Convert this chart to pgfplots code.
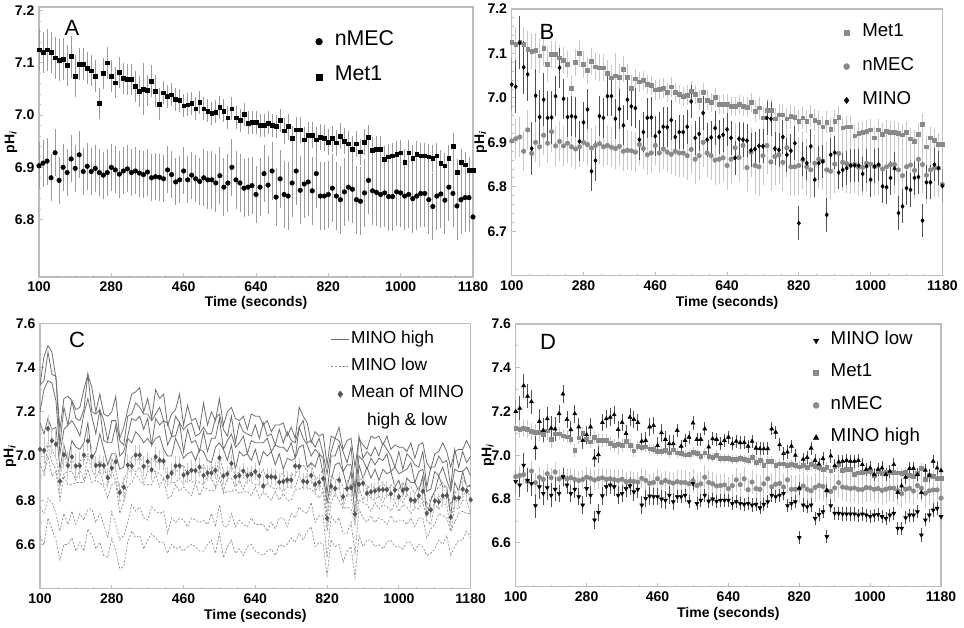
\documentclass[border=0pt]{standalone}
\usepackage{fontspec}
\setmainfont{Liberation Sans}
\usepackage{pgfplots}
\usepackage{pgfplotstable}
\pgfplotsset{compat=1.18}
\definecolor{frame}{HTML}{BDBDBD}
\definecolor{mk}{HTML}{8A8A8A}
\definecolor{ebl}{HTML}{C8C8C8}
\definecolor{ebA}{HTML}{9A9A9A}
\definecolor{ebd}{HTML}{505050}
\definecolor{cline}{HTML}{6E6E6E}
\definecolor{dline}{HTML}{8C8C8C}
\definecolor{meanc}{HTML}{555555}
\pgfplotsset{
  panel/.style={
    scale only axis, xmin=100, xmax=1180,
    xtick={100,280,460,640,820,1000,1180},
    minor x tick num=3, minor y tick num=4,
    axis line style={draw=frame, line width=0.9pt},
    tick style={draw=frame, line width=0.6pt},
    major tick length=3pt, minor tick length=1.5pt,
    tick align=inside, tick pos=left,
    /pgf/number format/assume math mode=true,
    ticklabel style={font=\bfseries\fontsize{10.5}{12}\selectfont, text=black},
    xticklabel style={/pgf/number format/1000 sep={}},
    yticklabel style={/pgf/number format/.cd, fixed, fixed zerofill, precision=1},
    xlabel={Time (seconds)}, ylabel={pH\textsubscript{\itshape i}},
    label style={font=\bfseries\fontsize{10.5}{12}\selectfont},
    xlabel style={anchor=center}, ylabel style={anchor=center},
    legend style={draw=none, fill=none, anchor=north west, inner sep=0pt,
      nodes={inner sep=1pt, text height=0.75em, text depth=0.2em}},
    legend cell align=left,
  },
  shortline/.style={legend image code/.code={\draw[##1] (0pt,0pt) -- (13.5pt,0pt);}},
  midmark/.style={legend image code/.code={\draw[##1] plot coordinates {(6.75pt,0pt)};}},
}
\pgfplotstableread{
t met me nm ne mi mie hi lo hle
100 7.125 0.040 6.903 0.045 7.030 0.060 7.200 6.880 0.055
110 7.120 0.040 6.908 0.045 7.025 0.060 7.215 6.864 0.055
120 7.125 0.040 6.912 0.045 7.124 0.060 7.318 6.955 0.055
130 7.120 0.040 6.880 0.045 7.069 0.060 7.270 6.886 0.055
140 7.110 0.040 6.928 0.045 7.053 0.060 7.245 6.871 0.055
150 7.105 0.040 6.875 0.045 6.886 0.060 7.035 6.770 0.055
160 7.107 0.040 6.900 0.045 7.005 0.060 7.155 6.856 0.055
170 7.095 0.040 6.890 0.045 6.957 0.060 7.114 6.826 0.055
180 7.112 0.040 6.916 0.045 6.996 0.060 7.167 6.852 0.055
190 7.075 0.040 6.898 0.045 6.955 0.060 7.124 6.818 0.055
200 7.098 0.030 6.924 0.045 6.956 0.060 7.120 6.845 0.055
210 7.098 0.030 6.892 0.045 7.004 0.045 7.190 6.826 0.040
220 7.090 0.030 6.902 0.045 7.068 0.045 7.280 6.902 0.040
230 7.085 0.030 6.892 0.045 6.998 0.045 7.164 6.864 0.040
240 7.075 0.030 6.898 0.045 6.957 0.045 7.117 6.826 0.040
250 7.022 0.030 6.890 0.045 6.959 0.045 7.190 6.845 0.040
260 7.080 0.030 6.885 0.045 6.957 0.045 7.130 6.811 0.040
270 7.100 0.030 6.890 0.045 6.902 0.045 7.068 6.773 0.040
280 7.075 0.030 6.900 0.045 6.945 0.045 7.094 6.848 0.040
290 7.062 0.030 6.895 0.045 6.974 0.045 7.130 6.818 0.040
300 7.082 0.030 6.887 0.045 6.835 0.045 6.988 6.705 0.040
310 7.070 0.030 6.893 0.045 6.859 0.045 7.003 6.739 0.040
320 7.068 0.030 6.897 0.045 6.959 0.045 7.150 6.815 0.040
330 7.068 0.030 6.890 0.045 6.955 0.045 7.167 6.856 0.040
340 7.055 0.030 6.893 0.045 7.004 0.045 7.174 6.864 0.040
350 7.045 0.030 6.889 0.045 7.004 0.045 7.185 6.856 0.040
360 7.050 0.050 6.886 0.045 6.953 0.045 7.118 6.818 0.040
370 7.047 0.030 6.891 0.045 6.975 0.045 7.150 6.826 0.040
380 7.065 0.030 6.880 0.045 6.938 0.045 7.100 6.848 0.040
390 7.046 0.030 6.882 0.045 6.996 0.045 7.174 6.861 0.040
400 7.021 0.030 6.881 0.045 6.981 0.045 7.164 6.833 0.040
410 7.043 0.022 6.878 0.045 6.977 0.045 7.150 6.845 0.040
420 7.036 0.022 6.895 0.045 6.906 0.045 7.064 6.773 0.040
430 7.039 0.022 6.886 0.045 6.923 0.045 7.068 6.803 0.040
440 7.030 0.022 6.872 0.045 6.955 0.045 7.130 6.814 0.040
450 7.028 0.022 6.876 0.045 6.956 0.045 7.136 6.811 0.040
460 7.018 0.022 6.893 0.045 6.914 0.045 7.045 6.811 0.040
470 7.020 0.022 6.876 0.045 6.923 0.045 7.103 6.800 0.040
480 7.022 0.022 6.885 0.045 6.935 0.045 7.073 6.795 0.040
490 7.012 0.022 6.878 0.045 6.934 0.045 7.053 6.818 0.040
500 7.025 0.022 6.873 0.045 6.950 0.045 7.053 6.788 0.040
510 7.012 0.022 6.880 0.055 6.912 0.038 7.114 6.811 0.030
520 7.008 0.022 6.876 0.055 6.923 0.038 7.042 6.811 0.030
530 7.003 0.022 6.876 0.055 6.923 0.038 7.068 6.818 0.030
540 7.006 0.022 6.870 0.055 6.935 0.038 7.083 6.788 0.030
550 7.015 0.022 6.884 0.055 6.992 0.038 7.148 6.871 0.030
560 7.008 0.022 6.862 0.055 6.910 0.038 7.073 6.780 0.030
570 6.995 0.022 6.870 0.055 6.919 0.038 7.073 6.795 0.030
580 7.012 0.022 6.900 0.055 6.966 0.038 7.121 6.818 0.030
590 6.995 0.022 6.876 0.055 6.906 0.038 7.038 6.791 0.030
600 6.990 0.022 6.870 0.055 6.911 0.038 7.076 6.800 0.030
610 7.001 0.022 6.860 0.055 6.932 0.038 7.073 6.790 0.030
620 6.985 0.022 6.862 0.055 6.912 0.038 7.053 6.795 0.030
630 6.986 0.022 6.865 0.055 6.917 0.038 7.068 6.795 0.030
640 6.986 0.022 6.848 0.055 6.929 0.038 7.083 6.795 0.030
650 6.981 0.022 6.862 0.055 6.910 0.038 7.053 6.780 0.030
660 6.981 0.022 6.888 0.055 6.865 0.038 7.064 6.788 0.030
670 6.985 0.022 6.866 0.055 6.908 0.038 7.058 6.780 0.030
680 6.981 0.022 6.893 0.055 6.906 0.038 7.058 6.776 0.030
690 6.979 0.022 6.843 0.055 6.904 0.038 7.042 6.780 0.030
700 6.990 0.022 6.878 0.055 6.882 0.038 7.064 6.773 0.030
710 6.970 0.025 6.848 0.065 6.885 0.038 7.033 6.776 0.030
720 6.978 0.025 6.845 0.065 6.892 0.038 7.030 6.760 0.030
730 6.955 0.025 6.870 0.065 6.891 0.038 7.030 6.776 0.030
740 6.972 0.025 6.893 0.065 6.955 0.038 7.030 6.788 0.030
750 6.972 0.025 6.856 0.065 6.953 0.038 7.121 6.818 0.030
760 6.953 0.025 6.868 0.065 6.886 0.038 7.106 6.811 0.030
770 6.962 0.025 6.872 0.065 6.883 0.038 7.048 6.818 0.030
780 6.962 0.025 6.855 0.065 6.912 0.038 7.008 6.826 0.030
790 6.953 0.025 6.888 0.065 6.872 0.038 7.015 6.770 0.030
800 6.958 0.025 6.845 0.065 6.881 0.038 7.042 6.780 0.030
810 6.956 0.025 6.845 0.065 6.898 0.038 7.000 6.788 0.030
820 6.948 0.025 6.848 0.065 6.718 0.038 6.850 6.624 0.030
830 6.955 0.025 6.860 0.065 6.863 0.038 6.982 6.773 0.030
840 6.947 0.025 6.845 0.065 6.853 0.038 6.990 6.765 0.030
850 6.960 0.025 6.838 0.065 6.891 0.038 7.033 6.773 0.030
860 6.950 0.025 6.853 0.065 6.816 0.038 6.977 6.712 0.030
870 6.945 0.025 6.862 0.065 6.853 0.038 6.960 6.730 0.030
880 6.935 0.025 6.858 0.065 6.857 0.038 6.985 6.742 0.030
890 6.945 0.025 6.838 0.065 6.737 0.038 6.840 6.629 0.030
900 6.930 0.025 6.835 0.065 6.872 0.038 6.997 6.770 0.030
910 6.948 0.025 6.851 0.065 6.877 0.038 6.952 6.735 0.030
920 6.957 0.025 6.875 0.065 6.832 0.038 6.970 6.735 0.030
930 6.933 0.025 6.855 0.065 6.838 0.038 6.973 6.732 0.030
940 6.935 0.025 6.852 0.065 6.842 0.038 6.977 6.732 0.030
950 6.935 0.025 6.848 0.065 6.848 0.038 6.973 6.732 0.030
960 6.915 0.025 6.851 0.065 6.848 0.038 6.973 6.732 0.030
970 6.920 0.025 6.844 0.065 6.848 0.038 6.977 6.727 0.030
980 6.922 0.025 6.844 0.065 6.829 0.038 6.958 6.732 0.030
990 6.925 0.025 6.853 0.065 6.846 0.038 6.936 6.727 0.030
1000 6.928 0.025 6.851 0.065 6.816 0.038 6.942 6.720 0.030
1010 6.910 0.025 6.845 0.065 6.846 0.038 6.912 6.727 0.030
1020 6.928 0.025 6.848 0.065 6.850 0.038 6.936 6.730 0.030
1030 6.918 0.025 6.840 0.065 6.801 0.038 6.942 6.720 0.030
1040 6.925 0.025 6.845 0.065 6.799 0.038 6.912 6.712 0.030
1050 6.922 0.025 6.850 0.065 6.820 0.038 6.927 6.727 0.030
1060 6.922 0.025 6.850 0.065 6.841 0.038 6.958 6.735 0.030
1070 6.920 0.025 6.838 0.065 6.741 0.038 6.830 6.667 0.030
1080 6.917 0.025 6.825 0.065 6.756 0.038 6.860 6.667 0.030
1090 6.922 0.025 6.845 0.065 6.797 0.038 6.900 6.715 0.030
1100 6.908 0.025 6.849 0.065 6.793 0.038 6.940 6.727 0.030
1110 6.903 0.025 6.837 0.065 6.820 0.038 6.940 6.727 0.030
1120 6.918 0.025 6.862 0.065 6.822 0.038 6.912 6.742 0.030
1130 6.940 0.025 6.850 0.065 6.724 0.038 6.830 6.636 0.030
1140 6.890 0.025 6.826 0.065 6.810 0.038 6.932 6.705 0.030
1150 6.910 0.025 6.838 0.065 6.810 0.038 6.909 6.727 0.030
1160 6.905 0.025 6.842 0.065 6.850 0.038 6.973 6.750 0.030
1170 6.895 0.025 6.842 0.065 6.842 0.038 6.942 6.758 0.030
1180 6.895 0.025 6.805 0.065 6.802 0.038 6.930 6.720 0.030
}\main
\pgfplotstableread{
t s1 s2 s3 s4 d1 d2 d3 d4 d5
100 7.32 7.32 7.20 7.15 7.01 6.97 6.91 6.77 6.64
110 7.45 7.34 7.30 7.10 7.01 6.92 6.91 6.74 6.60
120 7.50 7.47 7.34 7.17 7.06 7.05 7.00 6.81 6.72
130 7.47 7.37 7.33 7.12 7.03 6.97 6.91 6.79 6.67
140 7.35 7.36 7.25 7.13 6.99 6.94 6.93 6.74 6.62
150 7.12 7.05 7.01 6.94 6.90 6.86 6.80 6.66 6.53
160 7.26 7.22 7.12 7.05 7.01 6.92 6.91 6.74 6.60
170 7.27 7.14 7.14 6.97 6.94 6.93 6.87 6.69 6.60
180 7.25 7.25 7.16 7.07 6.99 6.93 6.87 6.75 6.63
190 7.21 7.17 7.13 7.04 6.94 6.89 6.88 6.69 6.57
200 7.22 7.16 7.09 7.03 6.98 6.94 6.88 6.74 6.61
210 7.30 7.21 7.19 7.06 6.98 6.89 6.88 6.71 6.57
220 7.37 7.37 7.26 7.15 7.01 7.00 6.94 6.76 6.67
230 7.31 7.20 7.18 6.99 7.00 6.94 6.88 6.76 6.64
240 7.20 7.19 7.10 7.02 6.95 6.90 6.89 6.70 6.58
250 7.28 7.21 7.21 7.10 6.98 6.94 6.88 6.74 6.61
260 7.19 7.16 7.07 7.03 6.96 6.87 6.86 6.69 6.55
270 7.18 7.07 7.06 6.96 6.88 6.87 6.81 6.63 6.54
280 7.20 7.16 7.06 7.01 6.99 6.93 6.87 6.75 6.63
290 7.27 7.16 7.14 7.01 6.94 6.89 6.88 6.69 6.57
300 7.08 7.07 7.00 6.94 6.84 6.80 6.74 6.62 6.49
310 7.13 7.05 7.02 6.95 6.89 6.80 6.79 6.64 6.50
320 7.21 7.18 7.09 7.08 6.93 6.92 6.86 6.70 6.61
330 7.28 7.19 7.17 7.06 7.00 6.94 6.88 6.78 6.66
340 7.29 7.24 7.16 7.11 6.98 6.93 6.92 6.75 6.63
350 7.31 7.22 7.18 7.09 6.99 6.95 6.89 6.77 6.64
360 7.20 7.19 7.12 7.06 6.97 6.88 6.87 6.72 6.58
370 7.26 7.19 7.17 7.08 6.94 6.93 6.87 6.71 6.62
380 7.17 7.16 7.05 7.05 6.99 6.93 6.87 6.77 6.65
390 7.30 7.19 7.17 7.08 6.98 6.93 6.92 6.75 6.63
400 7.26 7.22 7.14 7.09 6.96 6.92 6.86 6.74 6.61
410 7.28 7.16 7.16 7.03 6.99 6.90 6.90 6.75 6.61
420 7.14 7.15 7.05 7.00 6.88 6.87 6.81 6.65 6.56
430 7.19 7.09 7.09 7.00 6.94 6.88 6.82 6.72 6.60
440 7.21 7.18 7.09 7.08 6.93 6.88 6.87 6.70 6.58
450 7.28 7.15 7.15 7.04 6.94 6.90 6.84 6.72 6.59
460 7.14 7.12 7.02 6.99 6.96 6.87 6.86 6.71 6.57
470 7.23 7.14 7.12 7.01 6.91 6.90 6.84 6.68 6.59
480 7.16 7.15 7.06 7.02 6.94 6.88 6.82 6.72 6.60
490 7.17 7.09 7.07 6.98 6.94 6.89 6.88 6.71 6.59
500 7.12 7.10 7.02 7.03 6.92 6.88 6.82 6.70 6.57
510 7.24 7.13 7.11 7.02 6.96 6.87 6.86 6.71 6.57
520 7.14 7.10 7.02 6.98 6.92 6.91 6.85 6.69 6.60
530 7.20 7.10 7.08 6.97 6.96 6.90 6.84 6.74 6.62
540 7.16 7.17 7.08 7.04 6.91 6.86 6.85 6.68 6.56
550 7.26 7.19 7.17 7.06 7.00 6.96 6.90 6.78 6.65
560 7.14 7.12 7.03 7.03 6.93 6.84 6.83 6.68 6.54
570 7.20 7.09 7.07 6.98 6.91 6.90 6.84 6.68 6.59
580 7.22 7.18 7.10 7.05 6.96 6.90 6.84 6.74 6.62
590 7.17 7.06 7.04 6.94 6.91 6.86 6.85 6.68 6.56
600 7.16 7.15 7.06 7.02 6.93 6.89 6.83 6.71 6.58
610 7.18 7.11 7.09 7.00 6.94 6.85 6.84 6.69 6.55
620 7.12 7.10 7.01 7.01 6.91 6.90 6.84 6.68 6.59
630 7.19 7.09 7.07 6.98 6.94 6.88 6.82 6.72 6.60
640 7.18 7.14 7.06 7.03 6.92 6.87 6.86 6.69 6.57
650 7.18 7.08 7.06 6.96 6.91 6.87 6.81 6.69 6.56
660 7.14 7.15 7.06 7.02 6.94 6.85 6.84 6.69 6.55
670 7.16 7.09 7.08 7.00 6.89 6.88 6.82 6.66 6.57
680 7.11 7.10 7.02 7.02 6.92 6.86 6.80 6.70 6.58
690 7.14 7.05 7.05 6.96 6.90 6.85 6.84 6.67 6.55
700 7.14 7.12 7.04 7.01 6.90 6.86 6.80 6.72 6.60
710 7.15 7.06 7.04 6.94 6.93 6.84 6.83 6.72 6.59
720 7.09 7.11 7.02 6.99 6.87 6.86 6.80 6.68 6.60
730 7.13 7.07 7.06 6.98 6.92 6.86 6.80 6.74 6.63
740 7.08 7.06 6.99 6.99 6.91 6.86 6.85 6.72 6.61
750 7.22 7.13 7.13 7.04 6.95 6.91 6.85 6.77 6.65
760 7.18 7.16 7.08 7.05 6.96 6.87 6.86 6.75 6.62
770 7.15 7.06 7.05 6.95 6.93 6.92 6.86 6.74 6.66
780 7.06 7.07 7.00 6.97 6.97 6.91 6.85 6.79 6.68
790 7.11 7.04 7.03 6.95 6.89 6.84 6.83 6.70 6.59
800 7.09 7.08 7.01 7.01 6.91 6.87 6.81 6.73 6.61
810 7.10 7.01 6.99 6.92 6.94 6.85 6.84 6.73 6.60
820 6.96 6.92 6.83 6.79 6.73 6.72 6.66 6.54 6.46
830 7.09 7.02 7.00 6.89 6.91 6.85 6.79 6.73 6.62
840 7.08 7.08 7.00 6.96 6.89 6.84 6.83 6.70 6.59
850 7.13 7.07 7.05 6.97 6.90 6.86 6.80 6.72 6.60
860 7.03 7.02 6.93 6.93 6.86 6.77 6.76 6.65 6.52
870 7.07 6.97 6.96 6.86 6.84 6.83 6.77 6.65 6.57
880 7.08 7.04 6.96 6.93 6.88 6.82 6.76 6.70 6.59
890 6.95 6.84 6.82 6.73 6.75 6.70 6.69 6.56 6.45
900 7.08 7.09 7.00 6.96 6.90 6.86 6.80 6.76 6.64
910 7.05 6.99 6.98 6.90 6.89 6.80 6.79 6.72 6.59
920 7.03 7.02 6.94 6.95 6.85 6.84 6.78 6.70 6.62
930 7.09 7.00 6.99 6.90 6.87 6.81 6.75 6.73 6.62
940 7.08 7.04 6.96 6.94 6.85 6.80 6.79 6.70 6.59
950 7.09 7.00 6.99 6.89 6.86 6.82 6.76 6.72 6.60
960 7.05 7.06 6.98 6.94 6.88 6.79 6.78 6.71 6.58
970 7.09 7.03 7.01 6.92 6.84 6.83 6.77 6.69 6.61
980 7.03 7.00 6.93 6.93 6.87 6.81 6.75 6.73 6.62
990 7.05 6.95 6.95 6.86 6.85 6.80 6.79 6.70 6.59
1000 7.04 7.02 6.92 6.89 6.85 6.81 6.75 6.71 6.59
1010 7.04 6.94 6.93 6.82 6.88 6.79 6.78 6.71 6.58
1020 7.02 7.01 6.94 6.90 6.84 6.83 6.77 6.69 6.61
1030 7.06 6.99 6.97 6.88 6.86 6.80 6.74 6.72 6.61
1040 6.99 6.96 6.88 6.88 6.83 6.78 6.77 6.68 6.57
1050 7.05 6.95 6.93 6.84 6.86 6.82 6.76 6.72 6.60
1060 7.06 7.02 6.94 6.91 6.89 6.80 6.79 6.72 6.59
1070 6.97 6.86 6.84 6.73 6.78 6.77 6.71 6.63 6.55
1080 6.94 6.95 6.85 6.80 6.81 6.75 6.69 6.67 6.56
1090 7.01 6.95 6.93 6.84 6.84 6.79 6.78 6.69 6.58
1100 7.02 7.00 6.91 6.91 6.86 6.82 6.76 6.74 6.62
1110 7.06 6.97 6.95 6.86 6.88 6.79 6.78 6.73 6.60
1120 7.02 6.98 6.89 6.86 6.85 6.84 6.78 6.72 6.64
1130 6.95 6.86 6.84 6.73 6.78 6.72 6.66 6.66 6.55
1140 7.02 7.03 6.94 6.88 6.83 6.78 6.77 6.70 6.59
1150 7.03 6.95 6.93 6.84 6.86 6.82 6.76 6.74 6.62
1160 7.03 7.02 6.93 6.93 6.90 6.81 6.80 6.75 6.62
1170 7.07 6.97 6.95 6.86 6.87 6.86 6.80 6.74 6.66
1180 7.03 7.00 6.91 6.87 6.86 6.80 6.74 6.74 6.63
}\lines
\begin{document}
\begin{tikzpicture}
\useasboundingbox (0pt,0pt) rectangle (723pt,-471pt);
% ---------------- A
\begin{axis}[panel, at={(29.25pt,-5.25pt)}, anchor=north west,
  width=325.5pt, height=202.5pt, ymin=6.69, ymax=7.207,
  ytick={6.8,6.9,7.0,7.1,7.2},
  ylabel style={at={(rel axis cs:-0.0645,0.5)}},
  xlabel style={at={(rel axis cs:0.5,-0.096)}},
  legend style={at={(0.637,0.901)}, font=\fontsize{16}{19}\selectfont, row sep=15.1pt, column sep=8.3pt}]
\addlegendimage{only marks, mark=*, black, mark size=2.5pt}
\addlegendentry{nMEC}
\addlegendimage{only marks, mark=square*, black, mark size=2.2pt}
\addlegendentry{Met1}
\addplot[forget plot, only marks, mark=*, mark size=1.7pt, black,
  error bars/.cd, y dir=both, y explicit, error mark=none,
  error bar style={color=ebA, line width=0.6pt}] table[x=t, y=nm, y error=ne]{\main};
\addplot[forget plot, only marks, mark=square*, mark size=1.4pt, black,
  error bars/.cd, y dir=both, y explicit, error mark=none,
  error bar style={color=ebA, line width=0.6pt}] table[x=t, y=met, y error=me]{\main};
\node[font=\fontsize{16.5}{18}\selectfont] at (rel axis cs:0.076,0.922) {A};
\end{axis}
% ---------------- B
\begin{axis}[panel, at={(383.8pt,-6.75pt)}, anchor=north west,
  width=323pt, height=200pt, ymin=6.6, ymax=7.2,
  ytick={6.7,6.8,6.9,7.0,7.1,7.2},
  ylabel style={at={(rel axis cs:-0.0722,0.5)}},
  xlabel style={at={(rel axis cs:0.5,-0.102)}},
  legend style={at={(0.770,0.941)}, font=\fontsize{14}{17}\selectfont, row sep=13.9pt, column sep=8.5pt}]
\addlegendimage{only marks, mark=square*, mk, mark size=1.9pt}
\addlegendentry{Met1}
\addlegendimage{only marks, mark=*, mk, mark size=2.25pt}
\addlegendentry{nMEC}
\addlegendimage{only marks, mark=diamond*, black, mark size=2.3pt}
\addlegendentry{MINO}
\addplot[forget plot, only marks, mark=square*, mark size=1.4pt, mk,
  error bars/.cd, y dir=both, y explicit, error mark=none,
  error bar style={color=ebl, line width=0.6pt}] table[x=t, y=met, y error=me]{\main};
\addplot[forget plot, only marks, mark=*, mark size=1.7pt, mk,
  error bars/.cd, y dir=both, y explicit, error mark=none,
  error bar style={color=ebl, line width=0.6pt}] table[x=t, y=nm, y error=ne]{\main};
\addplot[forget plot, only marks, mark=diamond*, mark size=1.6pt, black,
  error bars/.cd, y dir=both, y explicit, error mark=none,
  error bar style={color=ebd, line width=0.6pt}] table[x=t, y=mi, y error=mie]{\main};
\node[font=\fontsize{16.5}{18}\selectfont] at (rel axis cs:0.082,0.914) {B};
\end{axis}
% ---------------- C
\begin{axis}[panel, at={(30pt,-242.5pt)}, anchor=north west,
  width=323pt, height=199pt, ymin=6.4, ymax=7.6,
  ytick={6.6,6.8,7.0,7.2,7.4,7.6}, minor y tick num=1,
  ylabel style={at={(rel axis cs:-0.0696,0.5)}},
  xlabel style={at={(rel axis cs:0.5,-0.102)}},
  legend style={at={(0.6745,0.969)}, font=\fontsize{13}{16}\selectfont, row sep=9pt, column sep=0pt}]
\addlegendimage{shortline, cline, line width=0.8pt}
\addlegendentry{MINO high}
\addlegendimage{shortline, dline, line width=0.8pt, dash pattern=on 1.6pt off 1.2pt}
\addlegendentry{MINO low}
\addlegendimage{midmark, only marks, mark=diamond*, meanc, mark size=2.4pt}
\addlegendentry{Mean of MINO}
\addlegendimage{empty legend}
\addlegendentry{\hspace*{12pt}high \& low}
\addplot[forget plot, dline, line width=0.5pt, dash pattern=on 1.6pt off 1.2pt] table[x=t, y=d1]{\lines};
\addplot[forget plot, dline, line width=0.5pt, dash pattern=on 1.6pt off 1.2pt] table[x=t, y=d2]{\lines};
\addplot[forget plot, dline, line width=0.5pt, dash pattern=on 1.6pt off 1.2pt] table[x=t, y=d3]{\lines};
\addplot[forget plot, dline, line width=0.5pt, dash pattern=on 1.6pt off 1.2pt] table[x=t, y=d4]{\lines};
\addplot[forget plot, dline, line width=0.5pt, dash pattern=on 1.6pt off 1.2pt] table[x=t, y=d5]{\lines};
\addplot[forget plot, cline, line width=0.6pt] table[x=t, y=s1]{\lines};
\addplot[forget plot, cline, line width=0.6pt] table[x=t, y=s2]{\lines};
\addplot[forget plot, cline, line width=0.6pt] table[x=t, y=s3]{\lines};
\addplot[forget plot, cline, line width=0.6pt] table[x=t, y=s4]{\lines};
\addplot[forget plot, only marks, mark=diamond*, mark size=1.8pt, meanc,
  error bars/.cd, y dir=both, y explicit, error mark=none,
  error bar style={color=ebl, line width=0.7pt}] table[x=t, y=mi, y error=mie]{\main};
\node[font=\fontsize{16.5}{18}\selectfont] at (rel axis cs:0.086,0.937) {C};
\end{axis}
% ---------------- D
\begin{axis}[panel, at={(386.8pt,-243pt)}, anchor=north west,
  width=319pt, height=197pt, ymin=6.4, ymax=7.6,
  ytick={6.6,6.8,7.0,7.2,7.4,7.6}, minor y tick num=1,
  ylabel style={at={(rel axis cs:-0.065,0.5)}},
  xlabel style={at={(rel axis cs:0.5,-0.104)}},
  legend style={at={(0.6986,0.967)}, font=\fontsize{14}{17}\selectfont, row sep=12.8pt, column sep=7.7pt}]
\addlegendimage{only marks, mark=triangle*, mark options={rotate=180}, black, mark size=2.3pt}
\addlegendentry{MINO low}
\addlegendimage{only marks, mark=square*, mk, mark size=1.9pt}
\addlegendentry{Met1}
\addlegendimage{only marks, mark=*, mk, mark size=2.25pt}
\addlegendentry{nMEC}
\addlegendimage{only marks, mark=triangle*, black, mark size=2.3pt}
\addlegendentry{MINO high}
\addplot[forget plot, only marks, mark=square*, mark size=1.4pt, mk,
  error bars/.cd, y dir=both, y explicit, error mark=none,
  error bar style={color=ebl, line width=0.6pt}] table[x=t, y=met, y error=me]{\main};
\addplot[forget plot, only marks, mark=*, mark size=1.7pt, mk,
  error bars/.cd, y dir=both, y explicit, error mark=none,
  error bar style={color=ebl, line width=0.6pt}] table[x=t, y=nm, y error=ne]{\main};
\addplot[forget plot, only marks, mark=triangle*, mark options={rotate=180}, mark size=1.7pt, black,
  error bars/.cd, y dir=both, y explicit, error mark=none,
  error bar style={color=ebd, line width=0.6pt}] table[x=t, y=lo, y error=hle]{\main};
\addplot[forget plot, only marks, mark=triangle*, mark size=1.7pt, black,
  error bars/.cd, y dir=both, y explicit, error mark=none,
  error bar style={color=ebd, line width=0.6pt}] table[x=t, y=hi, y error=hle]{\main};
\node[font=\fontsize{16.5}{18}\selectfont] at (rel axis cs:0.076,0.932) {D};
\end{axis}
\end{tikzpicture}
\end{document}
